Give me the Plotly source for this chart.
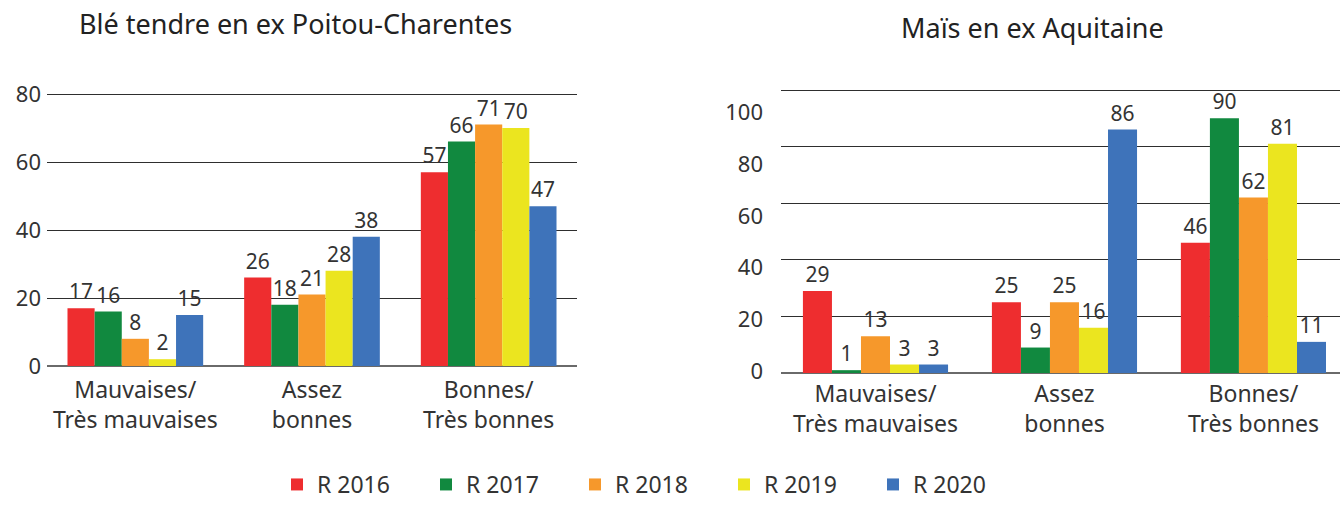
import plotly.graph_objects as go

categories = ["Mauvaises/<br>Très mauvaises", "Assez<br>bonnes", "Bonnes/<br>Très bonnes"]
series = ["R 2016", "R 2017", "R 2018", "R 2019", "R 2020"]
colors = ["#EE2D2F", "#11893F", "#F6982B", "#EBE51F", "#3E73BA"]

ble_2016 = [17, 26, 57]
ble_2017 = [16, 18, 66]
ble_2018 = [8, 21, 71]
ble_2019 = [2, 28, 70]
ble_2020 = [15, 38, 47]

mais_2016 = [29, 25, 46]
mais_2017 = [1, 9, 90]
mais_2018 = [13, 25, 62]
mais_2019 = [3, 16, 81]
mais_2020 = [3, 86, 11]

title_left = "Blé tendre en ex Poitou-Charentes"
title_right = "Maïs en ex Aquitaine"
ticks_left = [0, 20, 40, 60, 80]
ticks_right = [0, 20, 40, 60, 80, 100]

ble = [ble_2016, ble_2017, ble_2018, ble_2019, ble_2020]
mais = [mais_2016, mais_2017, mais_2018, mais_2019, mais_2020]

FONT = "Noto Sans"
TXT = "#333333"
W, H = 1340, 506

fig = go.Figure()
for name, col, vals in zip(series, colors, ble):
    fig.add_trace(go.Bar(x=categories, y=vals, name=name, marker_color=col,
                         marker_line_width=0, text=vals, textposition="outside",
                         textfont=dict(family=FONT, size=21, color=TXT),
                         constraintext="none", cliponaxis=False,
                         xaxis="x", yaxis="y", showlegend=True))
for name, col, vals in zip(series, colors, mais):
    fig.add_trace(go.Bar(x=categories, y=vals, name=name, marker_color=col,
                         marker_line_width=0, text=vals, textposition="outside",
                         textfont=dict(family=FONT, size=21, color=TXT),
                         constraintext="none", cliponaxis=False,
                         xaxis="x2", yaxis="y2", showlegend=False))

def py(px):
    return (H - px) / H

# pixel layout of the two plot areas
l_left, l_right, l_bottom = 47, 577, 366
l_ymax = 81
l_top = l_bottom - l_ymax * (272 / 80)
r_left, r_right, r_bottom = 781, 1340, 373
r_ymax = 101
r_top = r_bottom - r_ymax * (283 / 100)

ytick_font = dict(family=FONT, size=22, color=TXT)
cat_font = dict(family=FONT, size=23, color=TXT)

fig.update_layout(
    template="none",
    width=W, height=H,
    margin=dict(l=0, r=0, t=0, b=0, pad=0, autoexpand=False),
    paper_bgcolor="white", plot_bgcolor="white",
    barmode="group", bargap=0.232, bargroupgap=0,
    font=dict(family=FONT, color=TXT),
    hovermode=False,
    xaxis=dict(domain=[l_left / W, l_right / W], anchor="y", range=[-0.5, 2.5],
               automargin=False, showgrid=False, showline=False, ticks="",
               tickfont=cat_font, ticklabelstandoff=8),
    yaxis=dict(domain=[py(l_bottom), py(l_top)], anchor="x", range=[0, l_ymax],
               automargin=False, tickvals=ticks_left, showgrid=True,
               gridcolor="#2e2e2e", gridwidth=1,
               zeroline=True, zerolinecolor="#6a6a6a", zerolinewidth=2,
               showline=False, ticks="", tickfont=ytick_font, ticklabelstandoff=5),
    xaxis2=dict(domain=[r_left / W, r_right / W], anchor="y2", range=[-0.5, 2.458],
                automargin=False, showgrid=False, showline=False, ticks="",
                tickfont=cat_font, ticklabelstandoff=5),
    yaxis2=dict(domain=[py(r_bottom), py(r_top)], anchor="x2", range=[0, r_ymax],
                automargin=False,
                # labels in the reference sit slightly below their gridlines
                tickvals=[0.6 + 0.915 * v for v in ticks_right],
                ticktext=[str(v) for v in ticks_right],
                showgrid=False, zeroline=True, zerolinecolor="#6a6a6a", zerolinewidth=2,
                minor=dict(tickmode="array", tickvals=ticks_right, showgrid=True,
                           gridcolor="#2e2e2e", gridwidth=1, ticks=""),
                showline=False, ticks="", tickfont=ytick_font, ticklabelstandoff=17),
    legend=dict(orientation="h", x=277 / W, xanchor="left", y=0, yanchor="bottom",
                font=dict(family=FONT, size=23, color=TXT),
                entrywidth=104, entrywidthmode="pixels", bgcolor="rgba(0,0,0,0)"),
    annotations=[
        dict(text=title_left, x=295 / W, y=py(24), xref="paper", yref="paper",
             xanchor="center", yanchor="middle", showarrow=False,
             font=dict(family=FONT, size=27, color="#222222")),
        dict(text=title_right, x=1032 / W, y=py(27), xref="paper", yref="paper",
             xanchor="center", yanchor="middle", showarrow=False,
             font=dict(family=FONT, size=27, color="#222222")),
    ],
)

fig.write_html("out.html", config={"displayModeBar": False},
               post_script="document.body.style.margin='0';")
